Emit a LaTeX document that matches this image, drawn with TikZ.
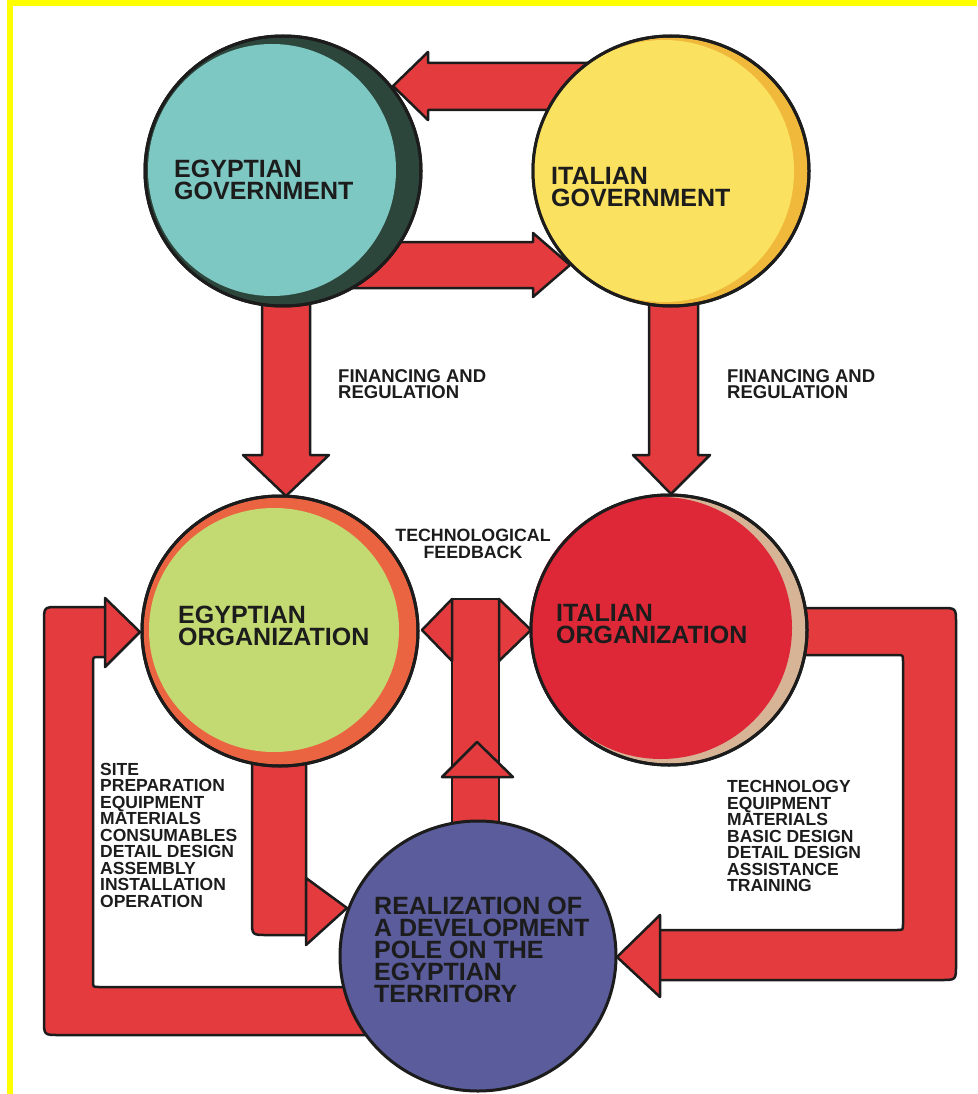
\documentclass[tikz,border=0pt]{standalone}
\usepackage{fontspec}
\setmainfont{Liberation Sans}
\usetikzlibrary{shapes.geometric}

\definecolor{framey}{RGB}{255,255,0}
\definecolor{inkc}{RGB}{28,28,28}
\definecolor{arrowred}{RGB}{228,60,62}
\definecolor{govteal}{RGB}{125,200,195}
\definecolor{govrim}{RGB}{45,70,60}
\definecolor{govyel}{RGB}{250,225,95}
\definecolor{yelrim}{RGB}{240,185,60}
\definecolor{orggreen}{RGB}{195,218,115}
\definecolor{greenrim}{RGB}{235,100,65}
\definecolor{orgred}{RGB}{222,40,55}
\definecolor{redrim}{RGB}{215,180,150}
\definecolor{poleblue}{RGB}{90,92,155}

\begin{document}
\begin{tikzpicture}[x=1pt,y=-1pt,
    orb/.style={ellipse, draw=inkc, line width=3pt, minimum width=276pt, minimum height=270pt, inner sep=0pt},
    band/.style={fill=arrowred, draw=inkc, line width=2.5pt, line join=round},
    orbtext/.style={anchor=west, align=left, inner sep=0pt, text=inkc, font=\fontsize{25}{22}\selectfont\bfseries},
    flowtext/.style={anchor=west, align=left, inner sep=0pt, text=inkc, font=\fontsize{18.5}{16}\selectfont\bfseries},
    listtext/.style={anchor=west, align=left, inner sep=0pt, text=inkc, font=\fontsize{17.5}{16.5}\selectfont\bfseries}]

\useasboundingbox (0,0) rectangle (977,1094);
\fill[framey] (7,0) rectangle (977,6);
\fill[framey] (7,0) rectangle (13,1094);

% between the governments
\draw[band] (600,63) -- (428,63) -- (428,52) -- (393,86) -- (428,120) -- (428,110) -- (600,110) -- cycle;
\draw[band] (340,242) -- (533,242) -- (533,233) -- (570,265) -- (533,297) -- (533,288) -- (340,288) -- cycle;

% financing and regulation
\draw[band] (262,290) -- (262,455) -- (243,455) -- (286,496) -- (329,455) -- (310,455) -- (310,290) -- cycle;
\draw[band] (649,290) -- (649,455) -- (633,455) -- (671,494) -- (710,455) -- (698,455) -- (698,290) -- cycle;

% loops round the sides
\draw[band] (112,607) -- (59,607) .. controls (44,607) .. (44,622) -- (44,1020) .. controls (44,1035) .. (59,1035)
    -- (400,1035) -- (400,987) -- (99,987) .. controls (93,987) .. (93,981) -- (93,663) .. controls (93,657) .. (99,657) -- (112,657) -- cycle;
\draw[band] (105,598) -- (140,632) -- (105,667) -- cycle;

\draw[band] (790,608) -- (941,608) .. controls (956,608) .. (956,623) -- (956,965) .. controls (956,980) .. (941,980)
    -- (655,980) -- (655,930) -- (897,930) .. controls (903,930) .. (903,924) -- (903,661) .. controls (903,655) .. (897,655) -- (790,655) -- cycle;
\draw[band] (660,915) -- (617,957) -- (660,997) -- cycle;

\draw[band] (252,750) -- (252,920) .. controls (252,935) .. (267,935) -- (306,935) -- (306,750) -- cycle;
\draw[band] (306,878) -- (347,908) -- (306,945) -- cycle;

% technological feedback
\draw[band] (452,599) -- (452,840) -- (499,840) -- (499,599) -- cycle;
\draw[band] (452,599) -- (422,630) -- (452,661) -- cycle;
\draw[band] (499,599) -- (531,630) -- (499,661) -- cycle;
\draw[band] (442,777) -- (477,742) -- (513,777) -- cycle;

% the five circles
\node[orb, fill=govrim] (egov) at (283,171) {};
\fill[govteal] (272,170) ellipse [x radius=124, y radius=126];
\draw[inkc, line width=3pt] (egov.center) ellipse [x radius=138, y radius=135];

\node[orb, fill=yelrim] (igov) at (671,171) {};
\fill[govyel] (664,171) ellipse [x radius=130, y radius=131];
\draw[inkc, line width=3pt] (igov.center) ellipse [x radius=138, y radius=135];

\node[orb, fill=greenrim] (eorg) at (280,631) {};
\fill[orggreen] (274,630) ellipse [x radius=125, y radius=122];
\draw[inkc, line width=3pt] (eorg.center) ellipse [x radius=138, y radius=135];

\node[orb, fill=redrim] (iorg) at (669,630) {};
\fill[orgred] (661,628) ellipse [x radius=131, y radius=131];
\draw[inkc, line width=3pt] (iorg.center) ellipse [x radius=138, y radius=135];

\node[orb, fill=poleblue] (real) at (478,956) {};

% texts
\node[orbtext] (egovtxt) at (174,180) {EGYPTIAN\\GOVERNMENT};
\node[orbtext] (igovtxt) at (551,187) {ITALIAN\\GOVERNMENT};
\node[orbtext] (eorgtxt) at (178,626) {EGYPTIAN\\ORGANIZATION};
\node[orbtext] (iorgtxt) at (556,624) {ITALIAN\\ORGANIZATION};
\node[orbtext] (realtxt) at (374,950) {REALIZATION OF\\A DEVELOPMENT\\POLE ON THE\\EGYPTIAN\\TERRITORY};

\node[flowtext] (fin1) at (338,384) {FINANCING AND\\REGULATION};
\node[flowtext] (fin2) at (727,384) {FINANCING AND\\REGULATION};
\node[flowtext, anchor=center, align=center, font=\fontsize{17.8}{16.3}\selectfont\bfseries] (feed) at (473,544) {TECHNOLOGICAL\\FEEDBACK};

\node[listtext] (eside) at (100,835) {SITE\\PREPARATION\\EQUIPMENT\\MATERIALS\\CONSUMABLES\\DETAIL DESIGN\\ASSEMBLY\\INSTALLATION\\OPERATION};
\node[listtext] (iside) at (727,836) {TECHNOLOGY\\EQUIPMENT\\MATERIALS\\BASIC DESIGN\\DETAIL DESIGN\\ASSISTANCE\\TRAINING};
\end{tikzpicture}
\end{document}
